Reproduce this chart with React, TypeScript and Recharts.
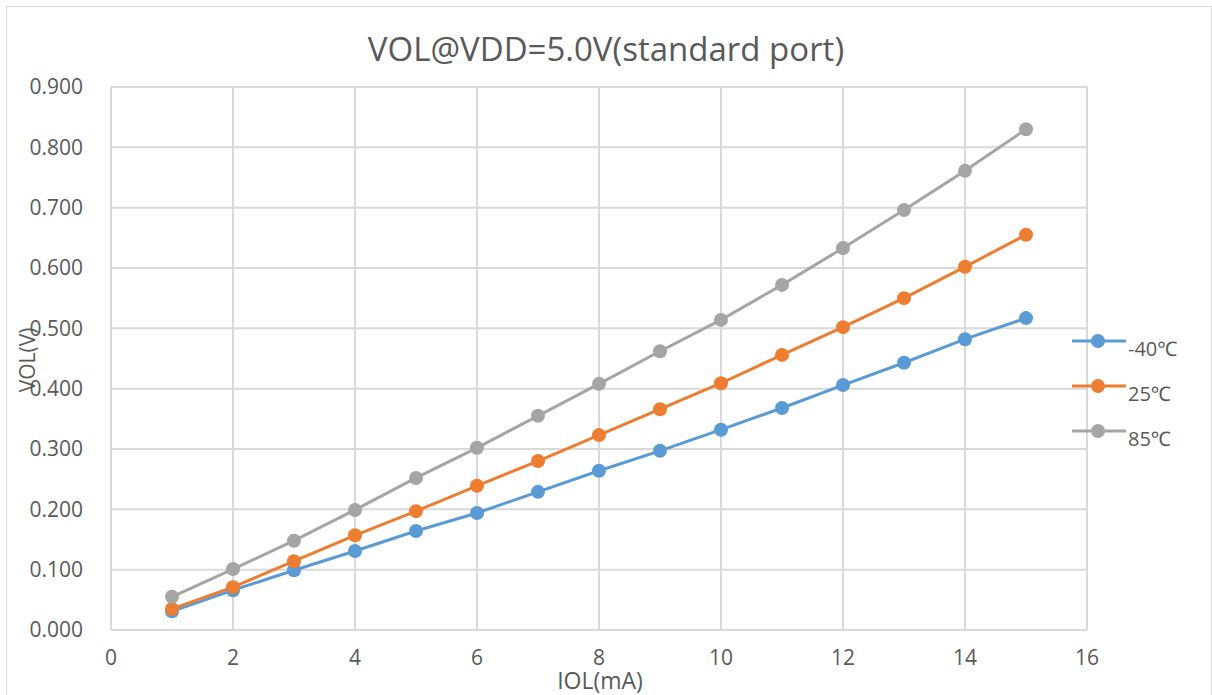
import React from 'react';
import { LineChart, Line, XAxis, YAxis, CartesianGrid } from 'recharts';

const iol = [1, 2, 3, 4, 5, 6, 7, 8, 9, 10, 11, 12, 13, 14, 15];
const volMinus40 = [0.031, 0.066, 0.099, 0.131, 0.164, 0.194, 0.229, 0.264, 0.297, 0.332, 0.368, 0.406, 0.443, 0.482, 0.517];
const vol25 = [0.035, 0.071, 0.114, 0.157, 0.197, 0.239, 0.280, 0.323, 0.366, 0.409, 0.456, 0.502, 0.550, 0.602, 0.655];
const vol85 = [0.055, 0.101, 0.148, 0.199, 0.252, 0.302, 0.355, 0.408, 0.462, 0.514, 0.572, 0.633, 0.696, 0.761, 0.830];

const xTicks = [0, 2, 4, 6, 8, 10, 12, 14, 16];
const yTicks = [0, 0.1, 0.2, 0.3, 0.4, 0.5, 0.6, 0.7, 0.8, 0.9];

const series = [
  { key: 'm40', name: '-40℃', color: '#5B9BD5' },
  { key: 'p25', name: '25℃', color: '#ED7D31' },
  { key: 'p85', name: '85℃', color: '#A5A5A5' },
];

const data = iol.map((x, i) => ({
  iol: x,
  m40: volMinus40[i],
  p25: vol25[i],
  p85: vol85[i],
}));

const FONT = '"Open Sans", "Noto Sans", sans-serif';
const TEXT = '#595959';

// legend drawn by hand so it doesn't eat into the plot area
function LegendBox() {
  return (
    <div style={{ position: 'absolute', left: 1070, top: 333 }}>
      {series.map((s, i) => (
        <div key={s.key} style={{ position: 'absolute', left: 0, top: i * 45, width: 140, height: 30 }}>
          <svg width={58} height={16} style={{ position: 'absolute', left: 0, top: 0 }}>
            <line x1={2} y1={8} x2={56} y2={8} stroke={s.color} strokeWidth={3} />
            <circle cx={28} cy={8} r={7} fill={s.color} />
          </svg>
          <span
            style={{
              position: 'absolute',
              left: 58,
              top: 2,
              fontFamily: FONT,
              fontSize: 20,
              color: TEXT,
              whiteSpace: 'nowrap',
            }}
          >
            {s.name}
          </span>
        </div>
      ))}
    </div>
  );
}

export default function App() {
  return (
    <div style={{ position: 'absolute', left: 0, top: 0, width: 1212, height: 695, background: '#fff', overflow: 'hidden' }}>
      <div style={{ position: 'absolute', left: 6, top: 6, width: 1204, height: 720, border: '1px solid #D9D9D9' }} />
      <div
        style={{
          position: 'absolute',
          left: 0,
          width: 1212,
          top: 26,
          textAlign: 'center',
          fontFamily: FONT,
          fontSize: 33,
          color: TEXT,
        }}
      >
        VOL@VDD=5.0V(standard port)
      </div>
      <div style={{ position: 'absolute', left: 0, top: 0 }}>
        <LineChart width={1212} height={695} data={data} margin={{ top: 87, right: 125, bottom: 35, left: 0 }}>
          <CartesianGrid stroke="#D9D9D9" strokeWidth={2} />
          <XAxis
            dataKey="iol"
            type="number"
            domain={[0, 16]}
            ticks={xTicks}
            height={30}
            axisLine={{ stroke: '#D9D9D9', strokeWidth: 2 }}
            tickLine={false}
            tickSize={0}
            tickMargin={20}
            tick={{ fill: TEXT, fontSize: 21, fontFamily: FONT }}
          />
          <YAxis
            type="number"
            domain={[0, 0.9]}
            ticks={yTicks}
            width={111}
            axisLine={false}
            tickLine={false}
            tickSize={0}
            tickMargin={28}
            tickFormatter={(v: number) => v.toFixed(3)}
            tick={{ fill: TEXT, fontSize: 21, fontFamily: FONT }}
          />
          {series.map((s) => (
            <Line
              key={s.key}
              type="linear"
              dataKey={s.key}
              name={s.name}
              stroke={s.color}
              strokeWidth={3}
              dot={{ r: 7, fill: s.color, stroke: s.color, strokeWidth: 0 }}
              activeDot={false}
              isAnimationActive={false}
            />
          ))}
        </LineChart>
      </div>
      <LegendBox />
      <div
        style={{
          position: 'absolute',
          left: 500,
          width: 200,
          top: 664,
          textAlign: 'center',
          fontFamily: FONT,
          fontSize: 23,
          color: TEXT,
        }}
      >
        IOL(mA)
      </div>
      <div
        style={{
          position: 'absolute',
          left: 27,
          top: 360,
          transform: 'translate(-50%, -50%) rotate(-90deg)',
          fontFamily: FONT,
          fontSize: 21,
          color: TEXT,
          whiteSpace: 'nowrap',
        }}
      >
        VOL(V)
      </div>
    </div>
  );
}
